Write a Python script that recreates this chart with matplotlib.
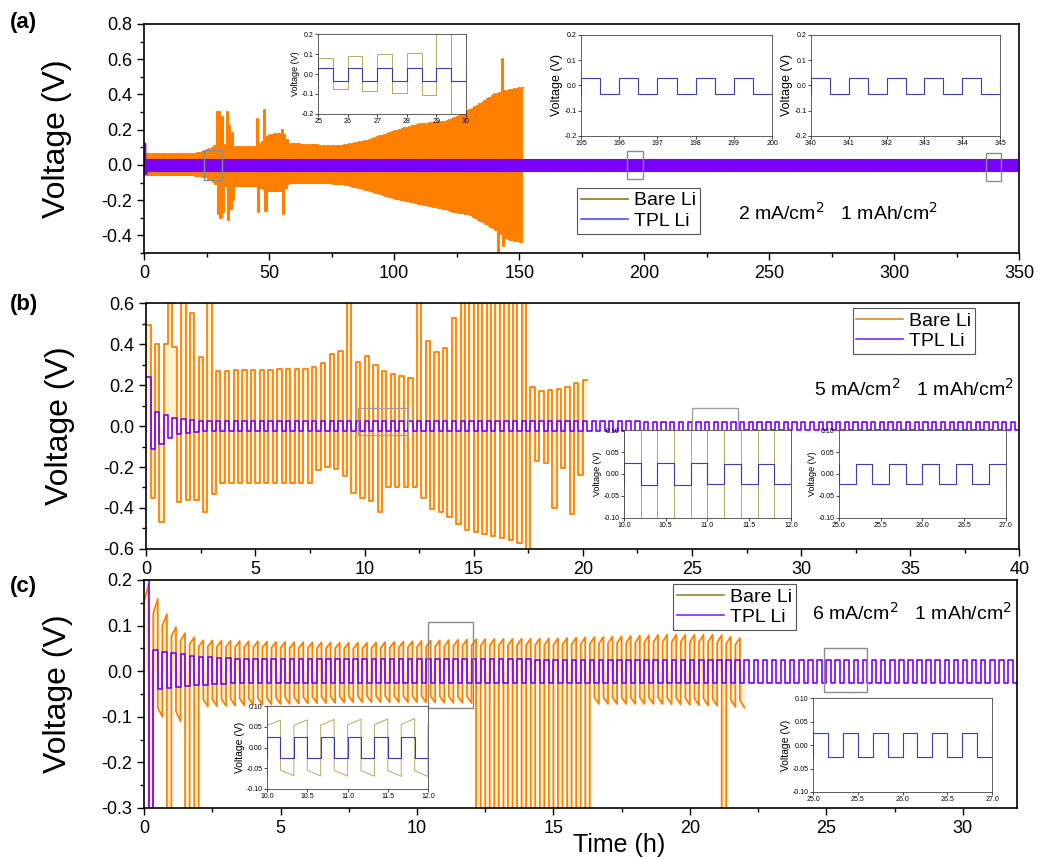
import numpy as np
import matplotlib
matplotlib.use("Agg")
import matplotlib.pyplot as plt
from matplotlib.lines import Line2D
from matplotlib.patches import Rectangle
from matplotlib.ticker import MultipleLocator, FormatStrFormatter

plt.rcParams['font.family'] = ['Liberation Sans', 'DejaVu Sans']

ORANGE = '#ff8000'
PURPLE = '#7b00ff'
CREAM = '#fff1cf'

# ---- (a) 2 mA/cm2, half cycle 0.5 h ----
a_half = 0.5
a_bare_end = 151.5
a_bare_t  = [0, 20, 25, 30, 36, 45, 50, 56, 58, 70, 80, 90, 100, 110, 120, 125, 130, 135, 140, 145, 151.5]
a_bare_hi = [0.06, 0.06, 0.08, 0.12, 0.1, 0.1, 0.17, 0.18, 0.12, 0.11, 0.11, 0.14, 0.19, 0.23, 0.245, 0.27, 0.31, 0.35, 0.4, 0.42, 0.44]
a_bare_lo = [-0.06, -0.06, -0.07, -0.12, -0.12, -0.12, -0.15, -0.15, -0.1, -0.1, -0.11, -0.145, -0.19, -0.22, -0.25, -0.27, -0.28, -0.32, -0.36, -0.42, -0.44]
a_bare_spike_t = [29.2, 30.2, 31.2, 33.2, 34.2, 35.2, 45.2, 48.2, 55.2, 143.2,
                  29.7, 30.7, 31.7, 33.7, 34.7, 35.7, 45.7, 48.7, 55.7, 141.7, 143.7]
a_bare_spike_v = [0.3, 0.3, 0.27, 0.3, 0.22, 0.18, 0.26, 0.31, 0.2, 0.6,
                  -0.28, -0.3, -0.27, -0.31, -0.25, -0.2, -0.27, -0.26, -0.28, -0.5, -0.46]
a_tpl_end = 350
a_tpl_t  = [0, 350]
a_tpl_hi = [0.028, 0.028]
a_tpl_lo = [-0.035, -0.035]
a_tpl_spike_t = [0.2, 0.7]
a_tpl_spike_v = [0.12, -0.05]

# ---- (b) 5 mA/cm2, half cycle 0.2 h ----
b_half = 0.2
b_bare_end = 20.2
b_bare_t  = [0, 0.5, 1.0, 2.0, 3.0, 3.3, 7.5, 8.0, 8.5, 9.0, 9.6, 10.0, 10.5, 11.0, 12.4, 13.0, 13.5, 14.0, 14.5, 17.5, 17.6, 18.0, 19.0, 20.2]
b_bare_hi = [0.52, 0.4, 0.4, 0.35, 0.32, 0.27, 0.28, 0.3, 0.35, 0.37, 0.3, 0.35, 0.3, 0.26, 0.23, 0.45, 0.3, 0.5, 0.65, 0.65, 0.2, 0.17, 0.18, 0.23]
b_bare_lo = [-0.2, -0.45, -0.38, -0.36, -0.36, -0.28, -0.28, -0.2, -0.2, -0.22, -0.35, -0.35, -0.38, -0.3, -0.3, -0.4, -0.42, -0.45, -0.5, -0.58, -0.18, -0.17, -0.2, -0.25]
b_bare_spike_t = [1.2, 1.6, 2.05, 2.85, 9.3, 12.45, 0.7, 2.65, 10.65, 17.5, 18.7, 19.5]
b_bare_spike_v = [0.62, 0.62, 0.55, 0.62, 0.62, 0.62, -0.47, -0.42, -0.42, -0.62, -0.4, -0.43]
b_tpl_end = 40
b_tpl_t  = [0, 0.5, 1.0, 1.5, 2.5, 40]
b_tpl_hi = [0.12, 0.07, 0.05, 0.035, 0.025, 0.02]
b_tpl_lo = [-0.12, -0.11, -0.06, -0.04, -0.025, -0.02]
b_tpl_spike_t = [0.1]
b_tpl_spike_v = [0.24]

# ---- (c) 6 mA/cm2, half cycle 1/6 h ----
c_half = 1 / 6
c_bare_end = 22.0
c_bare_t  = [0, 0.3, 0.7, 1.0, 1.5, 2.0, 5, 8, 10, 12, 15, 19, 21, 22]
c_bare_hi = [0.2, 0.17, 0.13, 0.1, 0.08, 0.068, 0.064, 0.062, 0.066, 0.07, 0.072, 0.08, 0.08, 0.07]
c_bare_lo = [-0.1, -0.1, -0.1, -0.12, -0.1, -0.078, -0.072, -0.068, -0.068, -0.07, -0.072, -0.072, -0.076, -0.08]
c_bare_spike_t = [0.25, 0.92, 1.58, 1.92, 12.25, 12.58, 12.92, 13.25, 13.58, 13.92, 14.25, 14.58, 14.92, 15.25, 15.58, 15.92, 16.25, 21.25]
c_bare_spike_v = [-0.4] * len(c_bare_spike_t)
c_tpl_end = 32
c_tpl_t  = [0, 0.5, 1, 2, 4, 32]
c_tpl_hi = [0.05, 0.045, 0.04, 0.032, 0.026, 0.025]
c_tpl_lo = [-0.045, -0.04, -0.035, -0.03, -0.025, -0.025]
c_tpl_spike_t = [0.08, 0.25]
c_tpl_spike_v = [0.2, -0.4]

# zoom boxes (x0, x1, y0, y1) as seen in the picture
a_boxes = [(24, 31, -0.085, 0.085), (193, 199.5, -0.08, 0.08), (336.5, 342.5, -0.09, 0.07)]
b_boxes = [(9.7, 12.0, -0.045, 0.09), (25.0, 27.1, -0.03, 0.09)]
c_boxes = [(10.4, 12.05, -0.081, 0.107), (24.9, 26.5, -0.046, 0.05)]


def trace(t_end, half, kt, khi, klo, st, sv, start=1.0):
    n = int(round(t_end / half))
    t0 = np.arange(n) * half
    mid = t0 + half / 2
    v = np.where(np.arange(n) % 2 == 0, np.interp(mid, kt, khi), np.interp(mid, kt, klo))
    for ts, vs in zip(st, sv):
        k = int(ts // half)
        if k < n:
            v[k] = vs
    t = np.column_stack([t0, t0 + half]).ravel()
    y = np.column_stack([v * start, v]).ravel()
    return t, y


a_bare = trace(a_bare_end, a_half, a_bare_t, a_bare_hi, a_bare_lo, a_bare_spike_t, a_bare_spike_v)
a_tpl = trace(a_tpl_end, a_half, a_tpl_t, a_tpl_hi, a_tpl_lo, a_tpl_spike_t, a_tpl_spike_v)
b_bare = trace(b_bare_end, b_half, b_bare_t, b_bare_hi, b_bare_lo, b_bare_spike_t, b_bare_spike_v)
b_tpl = trace(b_tpl_end, b_half, b_tpl_t, b_tpl_hi, b_tpl_lo, b_tpl_spike_t, b_tpl_spike_v)
c_bare = trace(c_bare_end, c_half, c_bare_t, c_bare_hi, c_bare_lo, c_bare_spike_t, c_bare_spike_v, start=0.8)
c_tpl = trace(c_tpl_end, c_half, c_tpl_t, c_tpl_hi, c_tpl_lo, c_tpl_spike_t, c_tpl_spike_v)

fig = plt.figure(figsize=(10.37, 8.59), dpi=100)

ax_a = fig.add_axes([0.139, 0.7055, 0.844, 0.2666])
ax_b = fig.add_axes([0.141, 0.361, 0.842, 0.286])
ax_c = fig.add_axes([0.139, 0.0594, 0.842, 0.2654])


def style_main(ax, xlim, ylim, xmaj, xmin, ymaj, ymin, yfmt):
    ax.set_xlim(*xlim)
    ax.set_ylim(*ylim)
    ax.xaxis.set_major_locator(MultipleLocator(xmaj))
    ax.xaxis.set_minor_locator(MultipleLocator(xmin))
    ax.yaxis.set_major_locator(MultipleLocator(ymaj))
    ax.yaxis.set_minor_locator(MultipleLocator(ymin))
    ax.yaxis.set_major_formatter(FormatStrFormatter(yfmt))
    ax.tick_params(which='both', direction='out', top=False, right=False, labelsize=13, width=1)
    ax.tick_params(which='major', length=5)
    ax.tick_params(which='minor', length=3)
    for s in ax.spines.values():
        s.set_linewidth(1.2)
    ax.set_ylabel('Voltage (V)', fontsize=23)
    ax.yaxis.set_label_coords(-0.082, 0.5)


ax_a.plot(*a_bare, color=ORANGE, lw=1.5)
ax_a.plot(*a_tpl, color=PURPLE, lw=1.5)
style_main(ax_a, (0, 350), (-0.5, 0.8), 50, 25, 0.2, 0.1, '%.1f')

ax_b.fill_between(*b_bare, 0, color=CREAM, lw=0)
ax_b.plot(*b_bare, color=ORANGE, lw=1.3)
ax_b.plot(*b_tpl, color=PURPLE, lw=1.2)
style_main(ax_b, (0, 40), (-0.6, 0.6), 5, 2.5, 0.2, 0.1, '%.1f')

ax_c.fill_between(*c_bare, 0, color=CREAM, lw=0)
ax_c.plot(*c_bare, color=ORANGE, lw=1.3)
ax_c.plot(*c_tpl, color=PURPLE, lw=1.2)
style_main(ax_c, (0, 32), (-0.3, 0.2), 5, 2.5, 0.1, 0.05, '%.1f')

for ax, boxes, col in [(ax_a, a_boxes, '#8a8a8a'), (ax_b, b_boxes, '#a0a0a0'), (ax_c, c_boxes, '#8a8a8a')]:
    for x0, x1, y0, y1 in boxes:
        ax.add_patch(Rectangle((x0, y0), x1 - x0, y1 - y0, fill=False, ec=col, lw=1.0, zorder=5))

# legends
def legend(ax, anchor, bare_col, tpl_col):
    h = [Line2D([], [], color=bare_col, lw=1.2), Line2D([], [], color=tpl_col, lw=1.2)]
    lg = ax.legend(h, ['Bare Li', 'TPL Li'], loc='upper left', bbox_to_anchor=anchor, fontsize=14,
                   frameon=True, fancybox=False, edgecolor='#555555', framealpha=1,
                   handlelength=2.4, handletextpad=0.3, labelspacing=0.15, borderpad=0.2,
                   borderaxespad=0)
    lg.get_frame().set_linewidth(0.8)


legend(ax_a, (0.495, 0.284), '#8c7a1a', '#4d4dff')
legend(ax_b, (0.809, 0.98), '#e08a20', '#7a2cff')
legend(ax_c, (0.606, 0.982), '#9a8530', '#7a2cff')

ax_a.text(0.679, 0.175, '2 mA/cm$^2$   1 mAh/cm$^2$', transform=ax_a.transAxes, fontsize=14, va='center')
ax_b.text(0.765, 0.65, '5 mA/cm$^2$   1 mAh/cm$^2$', transform=ax_b.transAxes, fontsize=14, va='center')
ax_c.text(0.765, 0.855, '6 mA/cm$^2$   1 mAh/cm$^2$', transform=ax_c.transAxes, fontsize=14, va='center')

fig.text(0.01, 0.974, '(a)', fontsize=16, fontweight='bold', va='center')
fig.text(0.01, 0.646, '(b)', fontsize=16, fontweight='bold', va='center')
fig.text(0.01, 0.317, '(c)', fontsize=16, fontweight='bold', va='center')
fig.text(0.597, 0.016, 'Time (h)', fontsize=18, ha='center', va='center')

# insets
insets = [
    ([0.3067, 0.8673, 0.1427, 0.0931], a_bare, a_tpl, (25, 30), (-0.2, 0.2), 1, 0.1, '%d', '%.1f', 6.5),
    ([0.5603, 0.8417, 0.1842, 0.1176], a_bare, a_tpl, (195, 200), (-0.2, 0.2), 1, 0.1, '%d', '%.1f', 9),
    ([0.7821, 0.8417, 0.1823, 0.1176], a_bare, a_tpl, (340, 345), (-0.2, 0.2), 1, 0.1, '%d', '%.1f', 9),
    ([0.6017, 0.3970, 0.1610, 0.1024], b_bare, b_tpl, (10, 12), (-0.1, 0.1), 0.5, 0.05, '%.1f', '%.2f', 6.5),
    ([0.8090, 0.3970, 0.1610, 0.1024], b_bare, b_tpl, (25, 27), (-0.1, 0.1), 0.5, 0.05, '%.1f', '%.2f', 6.5),
    ([0.2575, 0.0815, 0.1553, 0.0966], c_bare, c_tpl, (10, 12), (-0.1, 0.1), 0.5, 0.05, '%.1f', '%.2f', 7.5),
    ([0.7840, 0.0780, 0.1726, 0.1094], c_bare, c_tpl, (25, 27), (-0.1, 0.1), 0.5, 0.05, '%.1f', '%.2f', 7.5),
]
for rect, bare, tpl, xl, yl, xs, ys, xf, yf, lab in insets:
    ins = fig.add_axes(rect, facecolor='white', zorder=10)
    ins.plot(*bare, color='#b8a860', lw=0.7)
    ins.plot(*tpl, color='#222222', lw=0.6)
    ins.plot(*tpl, color='#3a3aff', lw=0.9, alpha=0.55)
    ins.set_xlim(*xl)
    ins.set_ylim(*yl)
    ins.xaxis.set_major_locator(MultipleLocator(xs))
    ins.yaxis.set_major_locator(MultipleLocator(ys))
    ins.xaxis.set_major_formatter(FormatStrFormatter(xf))
    ins.yaxis.set_major_formatter(FormatStrFormatter(yf))
    ins.tick_params(direction='out', length=2, width=0.5, labelsize=5, pad=1)
    for s in ins.spines.values():
        s.set_linewidth(0.6)
        s.set_color('#444444')
    ins.set_ylabel('Voltage (V)', fontsize=lab, labelpad=1)

fig.savefig('out.png', dpi=100)
